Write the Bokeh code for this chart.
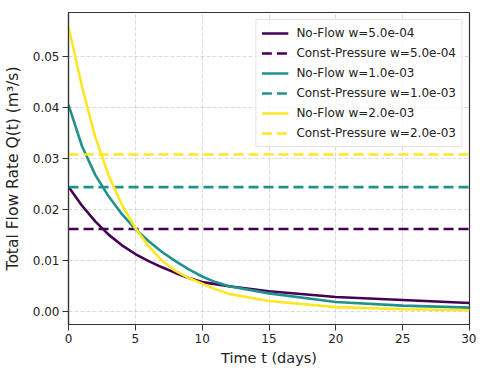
from bokeh.plotting import figure
from bokeh.models import Legend, LegendItem, Range1d, FixedTicker, NumeralTickFormatter
from bokeh.embed import file_html
from bokeh.resources import INLINE

# ---- data ----
t_days = [0, 1, 2, 3, 4, 5, 6, 7, 8, 9, 10, 11, 12, 15, 20, 25, 30]
q_noflow_w5e4 = [0.0245, 0.0208, 0.0177, 0.0151, 0.0130, 0.0113, 0.0099, 0.0087, 0.0076,
                 0.0066, 0.0058, 0.0054, 0.0050, 0.0040, 0.0029, 0.0023, 0.0017]
q_noflow_w1e3 = [0.0405, 0.0325, 0.0268, 0.0226, 0.0191, 0.0162, 0.0138, 0.0117, 0.0099,
                 0.0083, 0.0069, 0.0058, 0.0050, 0.0036, 0.0019, 0.0012, 0.0008]
q_noflow_w2e3 = [0.0558, 0.0442, 0.0342, 0.0267, 0.0209, 0.0164, 0.0128, 0.0100, 0.0080,
                 0.0066, 0.0055, 0.0044, 0.0035, 0.0021, 0.0009, 0.0005, 0.0003]
q_constp_w5e4 = 0.0162
q_constp_w1e3 = 0.0244
q_constp_w2e3 = 0.0308

labels_noflow = ["No-Flow w=5.0e-04", "No-Flow w=1.0e-03", "No-Flow w=2.0e-03"]
labels_constp = ["Const-Pressure w=5.0e-04", "Const-Pressure w=1.0e-03", "Const-Pressure w=2.0e-03"]
colors = ["#440154", "#21918c", "#fde725"]

x_ticks = [0, 5, 10, 15, 20, 25, 30]
y_ticks = [0.00, 0.01, 0.02, 0.03, 0.04, 0.05]

FONT = "DejaVu Sans"
TXT = "#222222"

p = figure(width=476, height=370, output_backend="svg", toolbar_location=None,
           x_range=Range1d(0, 30), y_range=Range1d(-0.0025, 0.0586),
           min_border_left=65, min_border_right=7, min_border_top=12, min_border_bottom=46)
p.background_fill_color = "white"
p.border_fill_color = "white"
p.outline_line_color = "#333333"
p.outline_line_width = 1.2

items = []
noflow = [q_noflow_w5e4, q_noflow_w1e3, q_noflow_w2e3]
constp = [q_constp_w5e4, q_constp_w1e3, q_constp_w2e3]
for q, c, col, ln, lc in zip(noflow, constp, colors, labels_noflow, labels_constp):
    r1 = p.line(t_days, q, line_color=col, line_width=2.6)
    r2 = p.line([t_days[0], t_days[-1]], [c, c], line_color=col, line_width=2.6,
                line_dash="10 5")
    items.append(LegendItem(label=ln, renderers=[r1]))
    items.append(LegendItem(label=lc, renderers=[r2]))

# axes
p.xaxis.ticker = FixedTicker(ticks=x_ticks)
p.yaxis.ticker = FixedTicker(ticks=y_ticks)
p.yaxis.formatter = NumeralTickFormatter(format="0.00")
p.xaxis.axis_label = "Time t (days)"
p.yaxis.axis_label = "Total Flow Rate Q(t) (m³/s)"
for ax in (p.xaxis, p.yaxis):
    ax.axis_label_text_font = FONT
    ax.axis_label_text_font_style = "normal"
    ax.axis_label_text_color = TXT
    ax.major_label_text_font = FONT
    ax.major_label_text_font_size = "12px"
    ax.major_label_text_color = TXT
    ax.axis_line_color = "#333333"
    ax.axis_line_width = 1.2
    ax.major_tick_line_color = "#333333"
    ax.major_tick_out = 6
    ax.major_tick_in = 0
    ax.minor_tick_line_color = None
    ax.major_label_standoff = 3
p.xaxis.axis_label_text_font_size = "14.5px"
p.yaxis.axis_label_text_font_size = "15.5px"
p.xaxis.axis_label_standoff = 4
p.yaxis.axis_label_standoff = 8

for g in (p.xgrid, p.ygrid):
    g.grid_line_color = "#b0b0b0"
    g.grid_line_alpha = 0.6
    g.grid_line_dash = "4 2"
    g.grid_line_width = 0.8
p.xgrid.ticker = FixedTicker(ticks=x_ticks)
p.ygrid.ticker = FixedTicker(ticks=y_ticks)

legend = Legend(items=items, location="top_right", margin=7, padding=5, spacing=4,
                label_height=16, glyph_height=16, glyph_width=27, label_standoff=8,
                label_text_font=FONT, label_text_font_size="12px", label_text_color=TXT,
                border_line_color="#cccccc", border_line_width=1,
                background_fill_color="white", background_fill_alpha=0.8)
p.add_layout(legend)

open("out.html", "w").write(file_html(p, INLINE))
